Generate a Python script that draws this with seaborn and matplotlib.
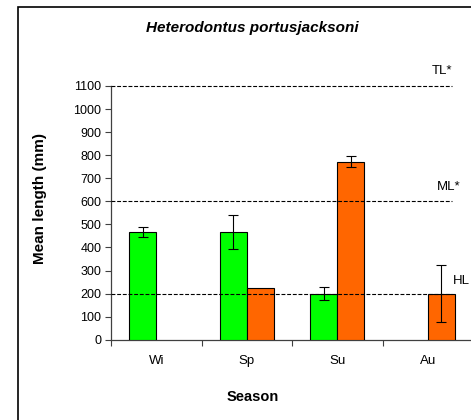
import matplotlib
matplotlib.use("Agg")
import matplotlib.pyplot as plt
import seaborn as sns
import pandas as pd
import numpy as np
from matplotlib.patches import Rectangle

# ---- data ----
seasons = ["Wi", "Sp", "Su", "Au"]
groups = ["Series 1", "Series 2"]
series1_vals = [467, 467, 200, np.nan]
series1_err = [23, 72, 27, np.nan]
series2_vals = [np.nan, 225, 772, 200]
series2_err = [np.nan, np.nan, 24, 125]
ref_values = [1100, 600, 200]
ref_labels = ["TL*", "ML*", "HL"]
yticks = list(range(0, 1101, 100))

title = "Heterodontus portusjacksoni"
xlabel = "Season"
ylabel = "Mean length (mm)"

colors = ["#00FF00", "#FF6600"]

# ---- build table ----
rows = []
for s, v in zip(seasons, series1_vals):
    rows.append({"Season": s, "Group": groups[0], "Length": v})
for s, v in zip(seasons, series2_vals):
    rows.append({"Season": s, "Group": groups[1], "Length": v})
df = pd.DataFrame(rows).dropna()

sns.set_theme(style="white")
plt.rcParams["font.family"] = ["Liberation Sans", "DejaVu Sans"]
plt.rcParams["text.color"] = "black"

W, H = 471, 420
fig = plt.figure(figsize=(W / 100, H / 100), dpi=100)
ax = fig.add_axes([111 / W, (H - 339.7) / H, 362 / W, 253.7 / H])

sns.barplot(data=df, x="Season", y="Length", hue="Group", order=seasons,
            hue_order=groups, palette=colors, saturation=1, width=0.6, gap=0,
            errorbar=None, edgecolor="black", linewidth=0.8,
            legend=False, ax=ax, zorder=3)

# error bars
offsets = [-0.15, 0.15]
for off, vals, errs in zip(offsets, [series1_vals, series2_vals],
                           [series1_err, series2_err]):
    for i, (v, e) in enumerate(zip(vals, errs)):
        if np.isnan(v) or np.isnan(e):
            continue
        ax.errorbar(i + off, v, yerr=e, fmt="none", ecolor="black",
                    elinewidth=0.8, capsize=3.6, capthick=0.8, zorder=4)

# reference lines
x_end = (451.7 - 111) / 90.5 - 0.5
label_pos = [((432 - 111) / 90.5 - 0.5, 1100 + (86 - 71) / 0.2306),
             ((437 - 111) / 90.5 - 0.5, 600 + (201.3 - 187) / 0.2306),
             ((453 - 111) / 90.5 - 0.5, 200 + (293.5 - 281) / 0.2306)]
for val, lab, (lx, ly) in zip(ref_values, ref_labels, label_pos):
    ax.plot([-0.5, x_end], [val, val], color="black", lw=0.8,
            dashes=(3.5, 1.6), clip_on=False, zorder=5)
    ax.text(lx, ly, lab, fontsize=9.5, ha="left", va="center",
            clip_on=False, color="black")

ax.set_xlim(-0.5, 3.5)
ax.set_ylim(0, 1100)
ax.set_yticks(yticks)
ax.set_yticklabels([str(t) for t in yticks])
ax.set_xticks(range(len(seasons)))
ax.set_xticklabels(seasons)
ax.set_xticks([-0.5, 0.5, 1.5, 2.5, 3.5], minor=True)
ax.tick_params(axis="x", which="major", length=0, pad=11, labelsize=9.5,
               colors="black")
ax.tick_params(axis="x", which="minor", length=4, width=0.8, color="#404040",
               direction="out", bottom=True)
ax.tick_params(axis="y", length=4, width=0.8, color="#404040", pad=3,
               labelsize=9, labelcolor="black", left=True, direction="out")
ax.set_xlabel("")
ax.set_ylabel("")
for sp in ["top", "right"]:
    ax.spines[sp].set_visible(False)
for sp in ["left", "bottom"]:
    ax.spines[sp].set_color("#404040")
    ax.spines[sp].set_linewidth(0.9)
ax.set_facecolor("white")

fig.text(252 / W, 1 - 28 / H, title, ha="center", va="center",
         fontsize=11, fontstyle="italic", fontweight="bold", color="black")
fig.text(40 / W, 1 - 199 / H, ylabel, ha="center", va="center",
         rotation=90, fontsize=11, fontweight="bold", color="black")
fig.text(253 / W, 1 - 397 / H, xlabel, ha="center", va="center",
         fontsize=10.5, fontweight="bold", color="black")

fig.patches.append(Rectangle((18.3 / W, -0.1), 1.2, 1 - 6.7 / H + 0.1,
                             transform=fig.transFigure, fill=False,
                             edgecolor="black", lw=1.2))

fig.savefig("out.png", dpi=100, facecolor="white")
